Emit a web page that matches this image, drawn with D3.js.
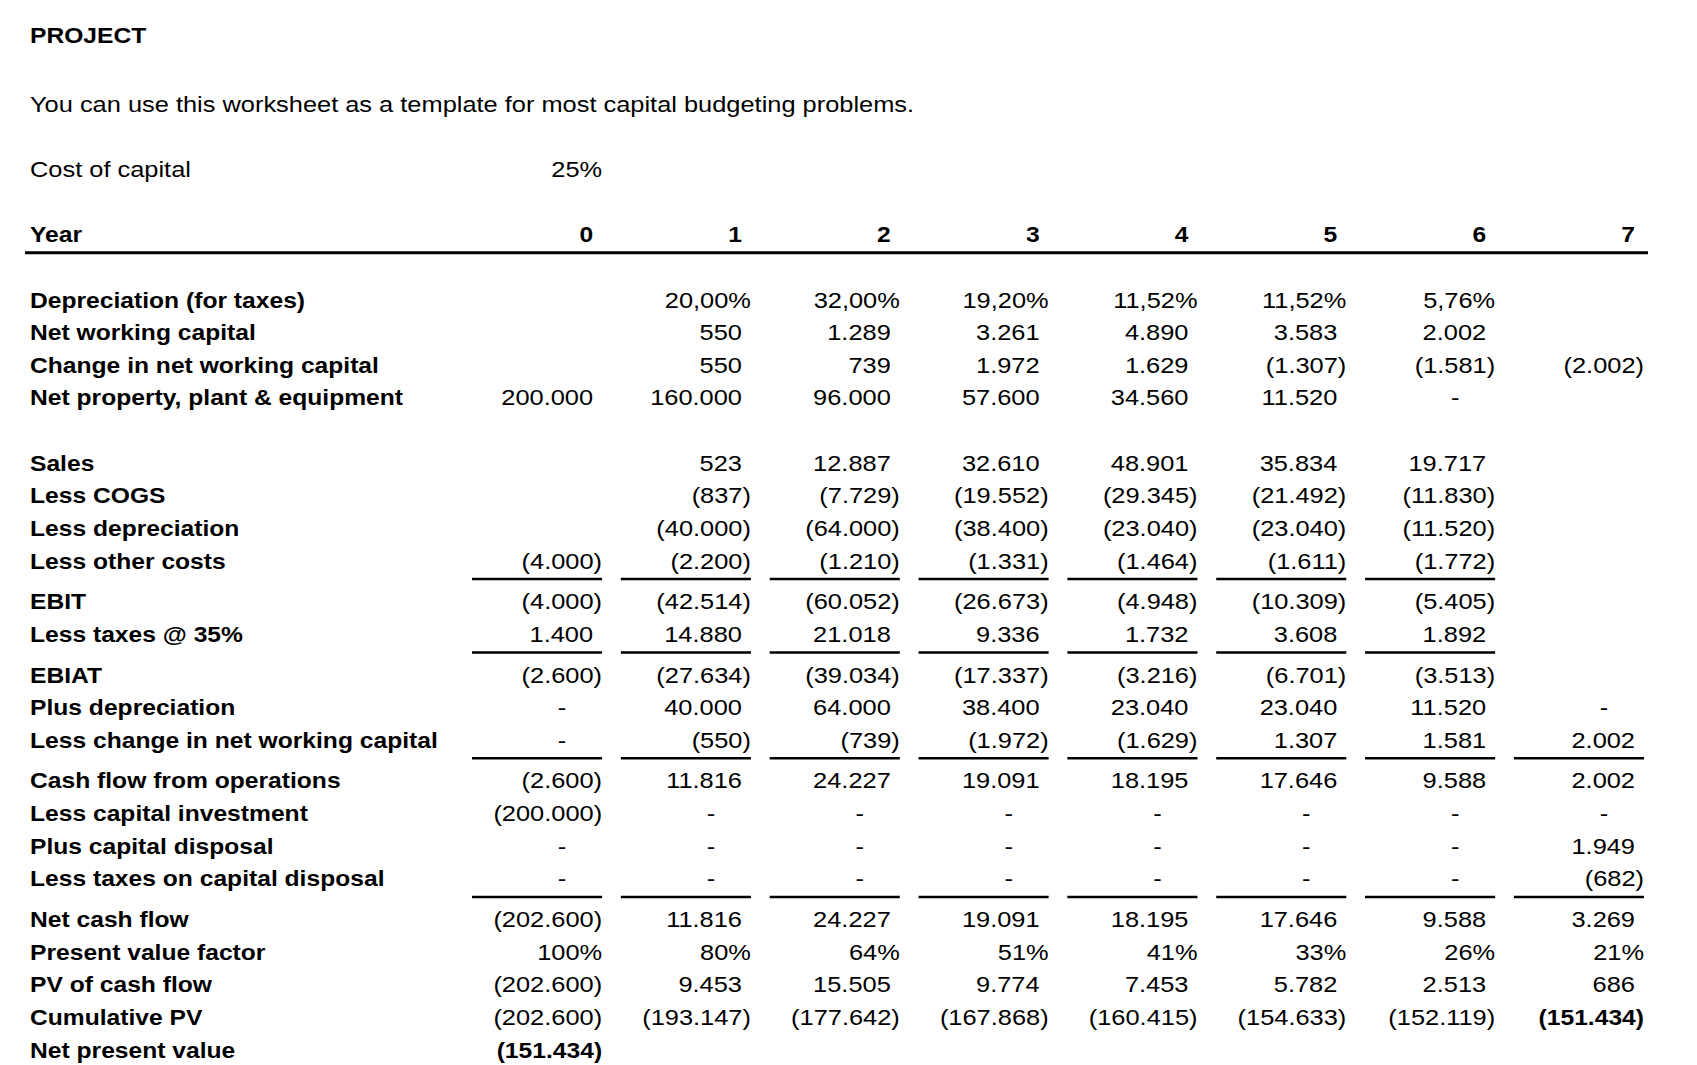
<!DOCTYPE html>
<html><head><meta charset="utf-8">
<script src="https://cdn.jsdelivr.net/npm/d3@7"></script>
<style>
html,body{margin:0;padding:0;background:#fff;}
svg text{font-family:"Liberation Sans",Arial,sans-serif;fill:#000;}
</style></head>
<body><svg id="chart" width="1697" height="1065"></svg>
<script>
// ---------- data ----------
const title = "PROJECT";
const description = "You can use this worksheet as a template for most capital budgeting problems.";
const costOfCapitalLabel = "Cost of capital";
const costOfCapital = 0.25;
const years = [0, 1, 2, 3, 4, 5, 6, 7];

const depreciationRate   = [null, 0.20, 0.32, 0.192, 0.1152, 0.1152, 0.0576, null];
const netWorkingCapital  = [null, 550, 1289, 3261, 4890, 3583, 2002, null];
const changeNWC          = [null, 550, 739, 1972, 1629, -1307, -1581, -2002];
const netPPE             = [200000, 160000, 96000, 57600, 34560, 11520, 0, null];
const sales              = [null, 523, 12887, 32610, 48901, 35834, 19717, null];
const lessCOGS           = [null, -837, -7729, -19552, -29345, -21492, -11830, null];
const lessDepreciation   = [null, -40000, -64000, -38400, -23040, -23040, -11520, null];
const lessOtherCosts     = [-4000, -2200, -1210, -1331, -1464, -1611, -1772, null];
const ebit               = [-4000, -42514, -60052, -26673, -4948, -10309, -5405, null];
const lessTaxes          = [1400, 14880, 21018, 9336, 1732, 3608, 1892, null];
const ebiat              = [-2600, -27634, -39034, -17337, -3216, -6701, -3513, null];
const plusDepreciation   = [0, 40000, 64000, 38400, 23040, 23040, 11520, 0];
const lessChangeNWC      = [0, -550, -739, -1972, -1629, 1307, 1581, 2002];
const cashFlowOps        = [-2600, 11816, 24227, 19091, 18195, 17646, 9588, 2002];
const lessCapInvestment  = [-200000, 0, 0, 0, 0, 0, 0, 0];
const plusCapDisposal    = [0, 0, 0, 0, 0, 0, 0, 1949];
const lessTaxesDisposal  = [0, 0, 0, 0, 0, 0, 0, -682];
const netCashFlow        = [-202600, 11816, 24227, 19091, 18195, 17646, 9588, 3269];
const pvFactor           = [1.00, 0.80, 0.64, 0.51, 0.41, 0.33, 0.26, 0.21];
const pvCashFlow         = [-202600, 9453, 15505, 9774, 7453, 5782, 2513, 686];
const cumulativePV       = [-202600, -193147, -177642, -167868, -160415, -154633, -152119, -151434];
const netPresentValue    = [-151434, null, null, null, null, null, null, null];

const rows = [
  {label:"Depreciation (for taxes)", values:depreciationRate, type:"pct2"},
  {label:"Net working capital", values:netWorkingCapital, type:"num"},
  {label:"Change in net working capital", values:changeNWC, type:"num"},
  {label:"Net property, plant & equipment", values:netPPE, type:"num"},
  {label:null},
  {label:"Sales", values:sales, type:"num"},
  {label:"Less COGS", values:lessCOGS, type:"num"},
  {label:"Less depreciation", values:lessDepreciation, type:"num"},
  {label:"Less other costs", values:lessOtherCosts, type:"num", underline:[0,1,2,3,4,5,6]},
  {label:"EBIT", values:ebit, type:"num"},
  {label:"Less taxes @ 35%", values:lessTaxes, type:"num", underline:[0,1,2,3,4,5,6]},
  {label:"EBIAT", values:ebiat, type:"num"},
  {label:"Plus depreciation", values:plusDepreciation, type:"num"},
  {label:"Less change in net working capital", values:lessChangeNWC, type:"num", underline:[0,1,2,3,4,5,6,7]},
  {label:"Cash flow from operations", values:cashFlowOps, type:"num"},
  {label:"Less capital investment", values:lessCapInvestment, type:"num"},
  {label:"Plus capital disposal", values:plusCapDisposal, type:"num"},
  {label:"Less taxes on capital disposal", values:lessTaxesDisposal, type:"num", underline:[0,1,2,3,4,5,6,7]},
  {label:"Net cash flow", values:netCashFlow, type:"num"},
  {label:"Present value factor", values:pvFactor, type:"pct0"},
  {label:"PV of cash flow", values:pvCashFlow, type:"num"},
  {label:"Cumulative PV", values:cumulativePV, type:"num", boldCols:[7]},
  {label:"Net present value", values:netPresentValue, type:"num", boldCols:[0]}
];

// ---------- layout ----------
const FS = 22, SX_REG = 1.155, SX_BOLD = 1.12;
const pitch = 32.64, extra = 8, firstRowY = 300, labelX = 30;
const parenPad = 9, dashOff = 40, ulOff = 18, baseOff = 7.5;

const svg = d3.select("#chart");
const x = d3.scaleBand().domain(years).range([472, 1644]).paddingInner(0.126).paddingOuter(0);
const right = c => x(years[c]) + x.bandwidth();

const thou = d3.format(",.0f");
function fmtNum(v){
  if (v == null) return "";
  if (v === 0) return "-";
  const s = thou(Math.abs(v)).replace(/,/g, ".");
  return v < 0 ? "(" + s + ")" : s;
}
function fmtPct(v, d){
  if (v == null) return "";
  return d3.format("." + d + "f")(v * 100).replace(".", ",") + "%";
}
function cellText(v, type){
  if (type === "pct2") return fmtPct(v, 2);
  if (type === "pct0") return fmtPct(v, 0);
  return fmtNum(v);
}
function cellX(v, type, c){
  if (v == null) return right(c);
  if (type !== "num") return right(c);
  if (v === 0) return right(c) - dashOff;
  return v < 0 ? right(c) : right(c) - parenPad;
}
// text placed with horizontal stretch to mimic Calibri proportions
function put(parent, tx, ty, str, opts = {}){
  const bold = !!opts.bold;
  return parent.append("text")
    .attr("transform", `translate(${tx},${ty}) scale(${bold ? SX_BOLD : SX_REG},1)`)
    .attr("font-size", FS)
    .attr("font-weight", bold ? "bold" : "normal")
    .attr("text-anchor", opts.anchor || "start")
    .text(str);
}

// header
const yTitle = firstRowY - 8*pitch, yDesc = firstRowY - 6*pitch, yCost = firstRowY - 4*pitch, yYear = firstRowY - 2*pitch;
put(svg, labelX, yTitle - 3 + baseOff, title, {bold:true});
put(svg, labelX, yDesc + baseOff, description);
put(svg, labelX, yCost + baseOff, costOfCapitalLabel);
put(svg, right(0), yCost + baseOff, fmtPct(costOfCapital, 0), {anchor:"end"});
put(svg, labelX, yYear + baseOff, "Year", {bold:true});
const yearG = svg.append("g");
years.forEach((d, i) => put(yearG, right(i) - parenPad, yYear + baseOff, String(d), {bold:true, anchor:"end"}));
svg.append("line").attr("x1", 25).attr("x2", 1648).attr("y1", yYear + ulOff).attr("y2", yYear + ulOff)
  .attr("stroke", "#000").attr("stroke-width", 3);

// body
let y = firstRowY;
rows.forEach(r => {
  if (r.label) {
    const g = svg.append("g");
    put(g, labelX, y + baseOff, r.label, {bold:true});
    r.values.forEach((v, c) => {
      const s = cellText(v, r.type);
      if (!s) return;
      put(g, cellX(v, r.type, c), y + baseOff, s, {
        bold: !!(r.boldCols && r.boldCols.includes(c)),
        anchor: (r.type === "num" && v === 0) ? "middle" : "end"
      });
    });
    if (r.underline) {
      g.selectAll("line").data(r.underline).join("line")
        .attr("x1", c => x(years[c])).attr("x2", c => right(c))
        .attr("y1", y + ulOff).attr("y2", y + ulOff).attr("stroke", "#000").attr("stroke-width", 2.5);
    }
  }
  y += pitch + (r.underline ? extra : 0);
});
</script></body></html>
